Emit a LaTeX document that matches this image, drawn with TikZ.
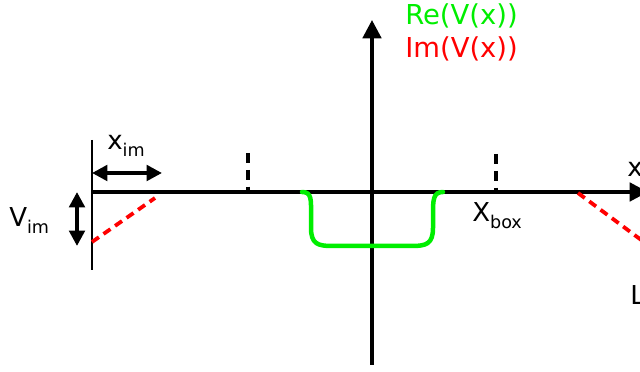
\documentclass[tikz,border=0pt]{standalone}
\usepackage{fontspec}
\setmainfont{DejaVu Sans}
\usetikzlibrary{arrows.meta}
\definecolor{regreen}{RGB}{0,238,0}
\definecolor{imred}{RGB}{255,0,0}
\tikzset{
  axis/.style={line width=2.7pt},
  bigtip/.style={-{Triangle[length=13pt,width=13pt]}},
  twotip/.style={{Triangle[length=11pt,width=11pt]}-{Triangle[length=11pt,width=11pt]},line width=2.7pt},
  tick/.style={line width=2.7pt,dash pattern=on 7pt off 5pt},
  imline/.style={imred,line width=2.7pt,dash pattern=on 6pt off 4pt},
  lab/.style={inner sep=0pt,font=\fontsize{18.5}{22}\selectfont},
  toplab/.style={inner sep=0pt,font=\fontsize{19.5}{23}\selectfont,anchor=base west}
}
\newcommand{\sublab}[1]{\raisebox{-4.3pt}{\fontsize{12.5}{14}\selectfont #1}}
\begin{document}
\begin{tikzpicture}[x=0.025cm,y=-0.025cm]
\useasboundingbox (0,0) rectangle (640,372);
% axes
\coordinate (xl) at (92,192); \coordinate (xr) at (648,192);
\coordinate (yb) at (372,365); \coordinate (yt) at (372,20);
\coordinate (wt) at (92,140); \coordinate (wb) at (92,270);
\draw[axis,bigtip] (xl) -- (xr);
\draw[axis,bigtip] (yb) -- (yt);
\draw[line width=1.4pt] (wt) -- (wb);
% box edges
\coordinate (ta) at (248,153); \coordinate (tb) at (248,192);
\coordinate (tc) at (496,154); \coordinate (td) at (496,192);
\draw[tick] (ta) -- (tb);
\draw[tick] (tc) -- (td);
% imaginary part
\coordinate (la) at (92,242); \coordinate (lb) at (155,198);
\coordinate (ra) at (578,193); \coordinate (rb) at (648,245);
\draw[imline] (la) -- (lb);
\draw[imline] (ra) -- (rb);
% real part
\draw[regreen,line width=3.2pt,line cap=round] (302,192) .. controls (312,192) and (311,200) .. (311,215) -- (311,228)
  .. controls (311,244) and (318,246) .. (332,246) -- (412,246) .. controls (426,246) and (433,244) .. (433,228)
  -- (433,215) .. controls (433,200) and (433,192) .. (443,192);
% widths
\coordinate (ximl) at (92,173); \coordinate (ximr) at (162,173);
\coordinate (vimt) at (77,192); \coordinate (vimb) at (77,246);
\draw[twotip] (ximl) -- (ximr);
\draw[twotip] (vimt) -- (vimb);
% labels
\node[lab,anchor=base west] (ximlab) at (107,150) {x\sublab{im}};
\node[lab,anchor=base west] (vimlab) at (9,227) {V\sublab{im}};
\node[lab,anchor=base west] (xboxlab) at (472,222) {X\sublab{box}};
\node[lab,anchor=base west] (xlab) at (627,177) {x};
\node[lab,anchor=base west] (llab) at (630,305) {L};
\node[toplab,text=regreen] (relab) at (405,25) {Re(V(x))};
\node[toplab,text=imred] (imlab) at (405,58) {Im(V(x))};
\end{tikzpicture}
\end{document}
